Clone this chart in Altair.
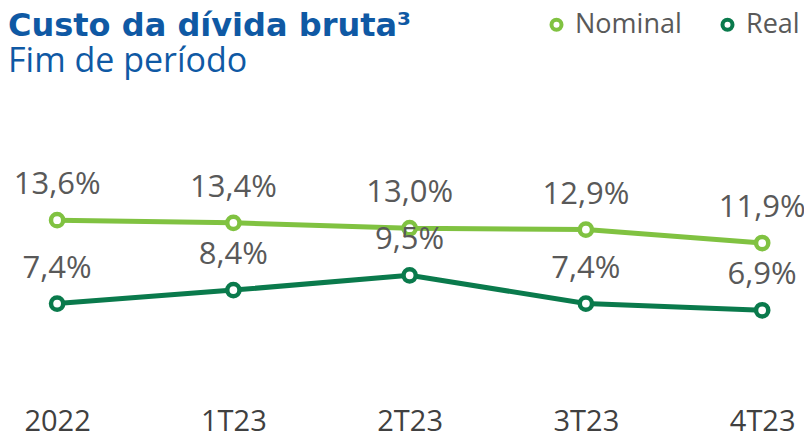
import altair as alt
import pandas as pd

periods = ["2022", "1T23", "2T23", "3T23", "4T23"]
nominal = [13.6, 13.4, 13.0, 12.9, 11.9]
real = [7.4, 8.4, 9.5, 7.4, 6.9]
series_names = ["Nominal", "Real"]
series_colors = ["#80C241", "#0A7A4C"]

rows = []
for name, vals in zip(series_names, [nominal, real]):
    for p, v in zip(periods, vals):
        rows.append({"periodo": p, "serie": name, "valor": v,
                     "rotulo": f"{v:.1f}".replace(".", ",") + "%"})
df = pd.DataFrame(rows)

x = alt.X("periodo:N", sort=periods, title=None,
          scale=alt.Scale(type="point", padding=0.258, align=0.54),
          axis=alt.Axis(labelAngle=0, labelFont="Open Sans", labelFontSize=29,
                        labelColor="#404040", labelPadding=12, domain=False,
                        ticks=False, grid=False))
y = alt.Y("valor:Q", title=None, scale=alt.Scale(domain=[0.6, 23.8], nice=False, zero=False),
          axis=None)
color = alt.Color("serie:N", sort=series_names,
                  scale=alt.Scale(domain=series_names, range=series_colors),
                  legend=alt.Legend(title=None, orient="none", direction="horizontal",
                                    legendX=535, legendY=-72, symbolType="circle",
                                    symbolSize=100, symbolStrokeWidth=4,
                                    symbolFillColor="white",
                                    labelFont="Open Sans", labelFontSize=27,
                                    labelColor="#595959", labelOffset=5,
                                    columnPadding=32, padding=0))

base = alt.Chart(df)
line = base.mark_line(strokeWidth=5).encode(x=x, y=y, color=color)
points = base.mark_point(filled=False, fill="white", size=150, strokeWidth=4.5, opacity=1,
                         shape="circle").encode(x=x, y=y, color=color)
labels = base.mark_text(dy=-26, baseline="alphabetic", align="center", font="Open Sans",
                        fontSize=31, color="#595959").encode(x=x, y=y, text="rotulo:N")

chart = alt.layer(line, points, labels).properties(
    width=796, height=312,
    padding={"left": 0, "right": 0, "top": 75, "bottom": 45},
    autosize=alt.AutoSizeParams(type="none"),
    title=alt.Title(text="Custo da dívida bruta³", subtitle="Fim de período",
                    anchor="start", frame="group", offset=-69,
                    font="DejaVu Sans", fontSize=32, fontWeight="bold", color="#0F59A4",
                    subtitleFont="Open Sans", subtitleFontSize=34, subtitleColor="#0F59A4",
                    subtitlePadding=2)
).configure_view(stroke=None)

chart.save("out.html", embed_options={"renderer": "svg", "actions": False})
